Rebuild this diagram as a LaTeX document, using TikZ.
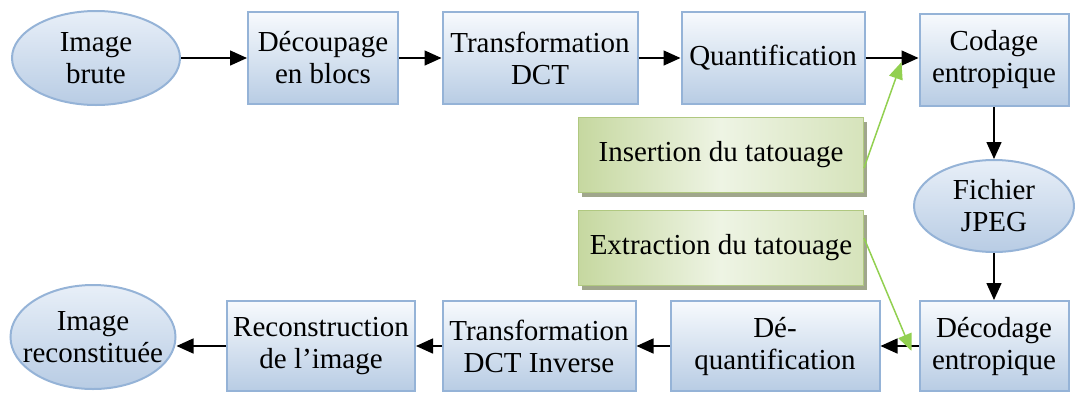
\documentclass[tikz,border=0pt]{standalone}
\usepackage{fontspec}
\setmainfont{Liberation Serif}
\usetikzlibrary{shapes.geometric}
\usetikzlibrary{arrows.meta}
\usetikzlibrary{shadows}
\definecolor{boxline}{RGB}{149,179,215}
\definecolor{boxtop}{RGB}{247,250,253}
\definecolor{boxbot}{RGB}{184,204,228}
\definecolor{blobtop}{RGB}{232,239,248}
\definecolor{wmline}{RGB}{176,200,128}
\definecolor{wmdark}{RGB}{198,216,160}
\definecolor{wmlight}{RGB}{238,244,228}
\definecolor{wmshadow}{RGB}{160,166,140}
\definecolor{wmarrow}{RGB}{146,208,80}

\begin{document}
\begin{tikzpicture}[x=1pt,y=-1pt,
  every node/.style={font=\rmfamily\fontsize{29}{32}\selectfont,align=center,inner sep=0pt},
  blk/.style={rectangle,draw=boxline,line width=2pt,top color=boxtop,bottom color=boxbot,minimum height=92pt},
  blob/.style={ellipse,draw=boxline,line width=2pt,top color=blobtop,bottom color=boxbot},
  wm/.style={rectangle,draw=wmline,line width=1pt,left color=wmdark,right color=wmdark!60!wmlight,middle color=wmlight,
    minimum width=285pt,minimum height=75pt,
    drop shadow={shadow xshift=3pt,shadow yshift=-4pt,fill=wmshadow,opacity=1}},
  flow/.style={-{Triangle[length=17pt,width=15pt]},line width=1.5pt,black},
  wmflow/.style={-{Triangle[length=17pt,width=14pt]},line width=1.5pt,draw=wmarrow}]
\useasboundingbox (0,0) rectangle (1075,392);

% compression
\node[blob,minimum width=168pt,minimum height=94pt,label=center:{Image\\brute}] (brute) at (96,58) {};
\node[blk,minimum width=150pt] (decoup) at (323,58) {Découpage\\en blocs};
\node[blk,minimum width=195pt] (dct) at (540,58) {Transformation\\DCT};
\node[blk,minimum width=183pt] (quant) at (773,58) {Quantification};
\node[blk,minimum width=149pt] (codage) at (994,60) {Codage\\entropique};
\node[blob,minimum width=160pt,minimum height=92pt,label=center:{Fichier\\JPEG}] (jpeg) at (994,206) {};

% watermark
\node[wm] (insert) at (721,155) {Insertion du tatouage};
\node[wm] (extract) at (721,248) {Extraction du tatouage};

% decompression
\node[blk,minimum width=149pt,minimum height=90pt] (decod) at (994,346) {Décodage\\entropique};
\node[blk,minimum width=209pt,minimum height=90pt] (deq) at (775,346) {Dé-\\quantification};
\node[blk,minimum width=193pt,minimum height=90pt] (idct) at (539,346) {Transformation\\DCT Inverse};
\node[blk,minimum width=188pt,minimum height=90pt] (recon) at (321,346) {Reconstruction\\de l’image};
\node[blob,minimum width=165pt,minimum height=104pt,label=center:{Image\\reconstituée}] (rebuilt) at (93,337) {};

\draw[flow] (brute) -- (decoup);
\draw[flow] (decoup) -- (dct);
\draw[flow] (dct) -- (quant);
\draw[flow] (quant.east) -- (quant.east -| codage.west);
\draw[flow] (codage) -- (jpeg);
\draw[flow] (jpeg) -- (decod);
\draw[flow] (decod) -- (deq);
\draw[flow] (deq) -- (idct);
\draw[flow] (idct) -- (recon);
\draw[flow] (recon.west) -- (recon.west -| rebuilt.east);

\draw[wmflow] ([yshift=-13pt]insert.east) -- ([xshift=-17pt,yshift=-2pt]codage.west);
\draw[wmflow] ([yshift=10pt]extract.east) -- ([xshift=-7pt,yshift=-5pt]decod.west);
\end{tikzpicture}
\end{document}
